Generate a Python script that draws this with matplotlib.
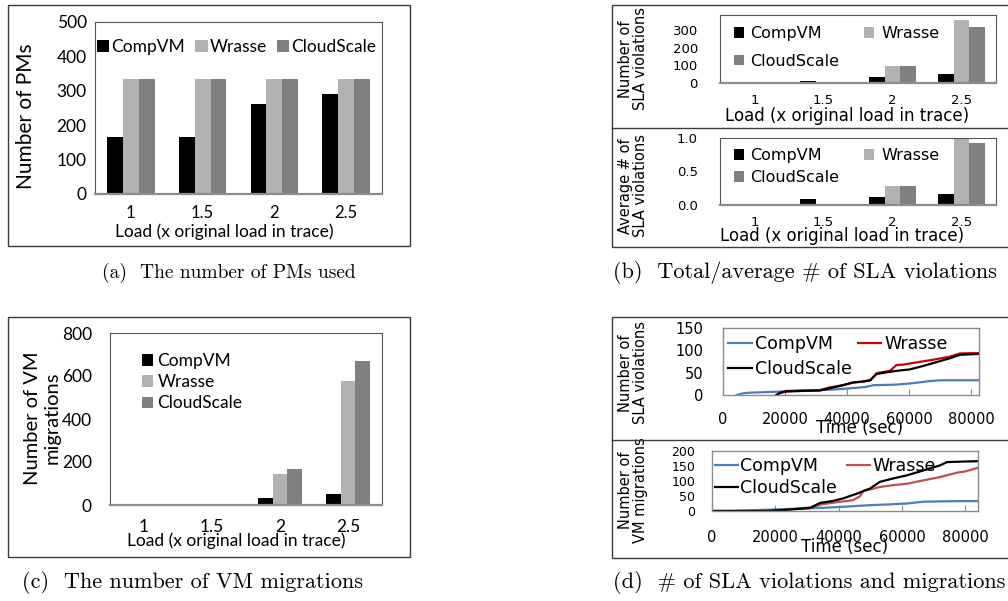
import matplotlib
matplotlib.use("Agg")
import matplotlib.pyplot as plt
from matplotlib.patches import Rectangle, Patch
from matplotlib.lines import Line2D
import numpy as np

W, H = 1008, 601
DPI = 100

# ---------------- data ----------------
loads = ["1", "1.5", "2", "2.5"]
series = ["CompVM", "Wrasse", "CloudScale"]
bar_colors = ["#000000", "#b2b2b2", "#808080"]

pms_compvm = [165, 165, 263, 290]
pms_wrasse = [333, 333, 333, 333]
pms_cloudscale = [333, 333, 333, 333]

sla_total_compvm = [0, 13, 34, 52]
sla_total_wrasse = [0, 0, 97, 356]
sla_total_cloudscale = [0, 0, 97, 315]

sla_avg_compvm = [0, 0.09, 0.12, 0.17]
sla_avg_wrasse = [0, 0, 0.28, 1.0]
sla_avg_cloudscale = [0, 0, 0.28, 0.92]

mig_compvm = [0, 0, 31, 50]
mig_wrasse = [0, 0, 143, 579]
mig_cloudscale = [0, 0, 166, 672]

# cumulative SLA violations over time
sla_t_compvm = [4400, 6000, 8000, 12000, 20000, 28000, 35000, 41000, 46000,
                48500, 55000, 59000, 63000, 66500, 70000, 76000, 82500]
sla_v_compvm = [0, 3, 5, 6, 8, 10, 12, 15, 18, 22, 23, 25, 28, 31, 33, 33, 33]
sla_t_wrasse = [17200, 18500, 20400, 25000, 31200, 34400, 38700, 41900, 45000,
                47500, 48400, 49500, 53800, 55900, 58000, 62400, 67800, 73100,
                76400, 82500]
sla_v_wrasse = [0, 5, 9, 10, 11, 17, 22, 28, 30, 33, 40, 49, 54, 67, 68, 73,
                79, 86, 93, 94]
sla_t_cloudscale = [17200, 18500, 20400, 25000, 31200, 34400, 38700, 41900,
                    45000, 47500, 48400, 49500, 53800, 57000, 60000, 64000,
                    68000, 73000, 76400, 82500]
sla_v_cloudscale = [0, 5, 8, 9, 10, 15, 22, 28, 30, 33, 40, 47, 52, 55, 57,
                    64, 72, 82, 90, 92]

# cumulative VM migrations over time
mig_t_compvm = [0, 8000, 14200, 22000, 30000, 36000, 41400, 46000, 51000,
                56000, 61600, 66700, 72000, 78000, 84000]
mig_v_compvm = [0, 1, 3, 6, 9, 11, 14, 17, 20, 22, 25, 31, 32, 33, 33]
mig_t_wrasse = [0, 17400, 24600, 31000, 35000, 40000, 44500, 46700, 47800,
                50000, 53000, 57000, 61600, 66700, 72000, 77400, 80000, 84000]
mig_v_wrasse = [0, 0, 5, 12, 23, 30, 36, 49, 67, 72, 80, 86, 91, 102, 113,
                128, 132, 144]
mig_t_cloudscale = [0, 17400, 24600, 31000, 34100, 38000, 41400, 45800, 49900,
                    53000, 57000, 61600, 66700, 72000, 74200, 80000, 84000]
mig_v_cloudscale = [0, 0, 5, 10, 27, 33, 42, 58, 75, 97, 108, 119, 135, 152,
                    163, 165, 166]

# ---------------- helpers ----------------
fig = plt.figure(figsize=(W / DPI, H / DPI), dpi=DPI)
fig.patch.set_facecolor("white")

FA = "Lato"         # text of panels (a) and (c)
FB = "DejaVu Sans"  # text of panels (b) and (d)
CAP = "cmr10"


def fx(x):
    return x / W


def fy(y):
    return 1 - y / H


def px_axes(x0, y0, x1, y1):
    return fig.add_axes([fx(x0), fy(y1), (x1 - x0) / W, (y1 - y0) / H])


def box(x0, y0, x1, y1):
    fig.add_artist(Rectangle((fx(x0), fy(y1)), (x1 - x0) / W, (y1 - y0) / H,
                             transform=fig.transFigure, fill=False,
                             lw=1.0, ec="#3a3a3a"))


def hline(x0, x1, y):
    fig.add_artist(Line2D([fx(x0), fx(x1)], [fy(y), fy(y)],
                          transform=fig.transFigure, lw=1.0, color="#3a3a3a"))


def style_bar_axes(ax, family, xsize, ysize, xpad, ypad):
    for s in ("top", "right", "left"):
        ax.spines[s].set_color("#555555")
        ax.spines[s].set_linewidth(0.8)
    ax.spines["bottom"].set_color("#8c8c8c")
    ax.spines["bottom"].set_linewidth(1.6)
    ax.tick_params(axis="x", length=0, pad=xpad, labelsize=xsize)
    ax.tick_params(axis="y", length=0, pad=ypad, labelsize=ysize)
    for lab in ax.get_xticklabels() + ax.get_yticklabels():
        lab.set_family(family)


def grouped_bars(ax, values, bar_w):
    x = np.arange(len(loads))
    for i, (vals, col, name) in enumerate(zip(values, bar_colors, series)):
        ax.bar(x + (i - 1) * bar_w, vals, width=bar_w, color=col,
               linewidth=0, label=name)
    ax.set_xlim(-0.5, len(loads) - 0.5)
    ax.set_xticks(x, loads)


def set_labels(ax, xlabel, xl_pos, ylabel, yl_pos, family, xsize, ysize,
               ylinespacing=1.0):
    ax.set_xlabel(xlabel, family=family, fontsize=xsize)
    ax.xaxis.set_label_coords(fx(xl_pos[0]), fy(xl_pos[1]),
                              transform=fig.transFigure)
    ax.xaxis.label.set_va("center")
    ax.set_ylabel(ylabel, family=family, fontsize=ysize,
                  linespacing=ylinespacing)
    ax.yaxis.set_label_coords(fx(yl_pos[0]), fy(yl_pos[1]),
                              transform=fig.transFigure)
    ax.yaxis.label.set_va("center")


def patch_handles():
    return [Patch(facecolor=c, edgecolor="none") for c in bar_colors]


# ---------------- (a) number of PMs ----------------
box(8, 5, 410, 246)
ax_a = px_axes(95, 22, 382, 194)
grouped_bars(ax_a, [pms_compvm, pms_wrasse, pms_cloudscale], 0.22)
ax_a.set_ylim(0, 500)
ax_a.set_yticks([0, 100, 200, 300, 400, 500])
style_bar_axes(ax_a, FA, 12, 12.5, 8, 6)
set_labels(ax_a, "Load (x original load in trace)", (224, 232),
           "Number of PMs", (26, 116), FA, 12.5, 15)
ax_a.legend(patch_handles(), series, loc="upper left",
            bbox_to_anchor=(fx(97), fy(39)),
            bbox_transform=fig.transFigure, ncol=3, frameon=False,
            borderpad=0, borderaxespad=0, handlelength=0.7,
            handleheight=0.7, handletextpad=0.12, columnspacing=0.6,
            prop={"family": FA, "size": 12.5})
fig.text(fx(229), fy(273), "(a)  The number of PMs used", family=CAP,
         fontsize=14, ha="center", va="center")

# ---------------- (c) number of VM migrations ----------------
box(8, 317, 410, 557)
ax_c = px_axes(110, 333, 382, 505)
grouped_bars(ax_c, [mig_compvm, mig_wrasse, mig_cloudscale], 0.22)
ax_c.set_ylim(0, 800)
ax_c.set_yticks([0, 200, 400, 600, 800])
style_bar_axes(ax_c, FA, 12.5, 12.5, 10, 13)
set_labels(ax_c, "Load (x original load in trace)", (236, 541),
           "Number of VM\nmigrations", (42, 418), FA, 12.5, 14.5, 1.2)
ax_c.legend(patch_handles(), series, loc="upper left",
            bbox_to_anchor=(fx(142), fy(353)), bbox_transform=fig.transFigure,
            ncol=1, frameon=False, borderpad=0, borderaxespad=0,
            handlelength=0.62, handleheight=0.62, handletextpad=0.28,
            labelspacing=0.3, prop={"family": FA, "size": 12.5})
fig.text(fx(193), fy(583), "(c)  The number of VM migrations", family=CAP,
         fontsize=16, ha="center", va="center")

# ---------------- (b) total / average SLA violations ----------------
box(612, 5, 1012, 247)
hline(612, 1012, 128)
legend_order = [0, 2, 1]  # two columns: CompVM / CloudScale, then Wrasse

ax_b1 = px_axes(720, 15, 996, 83)
grouped_bars(ax_b1, [sla_total_compvm, sla_total_wrasse,
                     sla_total_cloudscale], 0.23)
ax_b1.set_ylim(0, 385)
ax_b1.set_yticks([0, 100, 200, 300])
style_bar_axes(ax_b1, FB, 9.5, 9.5, 8, 16)
set_labels(ax_b1, "Load (x original load in trace)", (847, 116),
           "Number of\nSLA violations", (633, 59), FB, 12, 10.5, 1.0)
ax_b1.legend([patch_handles()[i] for i in legend_order],
             [series[i] for i in legend_order], loc="upper left",
             bbox_to_anchor=(fx(734), fy(26)), bbox_transform=fig.transFigure,
             ncol=2, frameon=False, borderpad=0, borderaxespad=0,
             handlelength=0.62, handleheight=0.62, handletextpad=0.42,
             labelspacing=0.8, columnspacing=1.55,
             prop={"family": FB, "size": 11.5})

ax_b2 = px_axes(720, 138, 996, 205)
grouped_bars(ax_b2, [sla_avg_compvm, sla_avg_wrasse, sla_avg_cloudscale],
             0.23)
ax_b2.set_ylim(0, 1.0)
ax_b2.set_yticks([0.0, 0.5, 1.0], ["0.0", "0.5", "1.0"])
style_bar_axes(ax_b2, FB, 9.5, 9.5, 8, 16)
set_labels(ax_b2, "Load (x original load in trace)", (842, 236),
           "Average # of\nSLA violations", (633, 186), FB, 12, 10.5, 1.0)
ax_b2.legend([patch_handles()[i] for i in legend_order],
             [series[i] for i in legend_order], loc="upper left",
             bbox_to_anchor=(fx(734), fy(148)), bbox_transform=fig.transFigure,
             ncol=2, frameon=False, borderpad=0, borderaxespad=0,
             handlelength=0.62, handleheight=0.62, handletextpad=0.42,
             labelspacing=0.45, columnspacing=1.55,
             prop={"family": FB, "size": 11.5})
fig.text(fx(805), fy(272), "(b)  Total/average # of SLA violations",
         family=CAP, fontsize=16, ha="center", va="center")

# ---------------- (d) SLA violations and migrations over time ----------------
box(612, 317, 1012, 558)
hline(612, 1012, 440)

line_cols_top = {"CompVM": "#4a7ebb", "Wrasse": "#d00000",
                 "CloudScale": "#000000"}
line_cols_bot = {"CompVM": "#4a7ebb", "Wrasse": "#c0504d",
                 "CloudScale": "#000000"}
line_order = ["CompVM", "CloudScale", "Wrasse"]


def style_line_axes(ax, xsize, ysize, xpad, ypad):
    for s in ax.spines.values():
        s.set_color("#8c8c8c")
        s.set_linewidth(1.0)
    ax.tick_params(axis="x", direction="in", length=4, color="#8c8c8c",
                   pad=xpad, labelsize=xsize)
    ax.tick_params(axis="y", length=0, pad=ypad, labelsize=ysize)
    for lab in ax.get_xticklabels() + ax.get_yticklabels():
        lab.set_family(FB)


ax_d1 = px_axes(723, 328, 979, 395)
ax_d1.plot(sla_t_compvm, sla_v_compvm, color=line_cols_top["CompVM"], lw=1.6)
ax_d1.plot(sla_t_wrasse, sla_v_wrasse, color=line_cols_top["Wrasse"], lw=1.6)
ax_d1.plot(sla_t_cloudscale, sla_v_cloudscale,
           color=line_cols_top["CloudScale"], lw=1.6)
ax_d1.set_xlim(0, 82500)
ax_d1.set_ylim(0, 150)
ax_d1.set_xticks([0, 20000, 40000, 60000, 80000])
ax_d1.set_yticks([0, 50, 100, 150])
style_line_axes(ax_d1, 10.5, 10.5, 12, 14)
set_labels(ax_d1, "Time (sec)", (860, 428), "Number of\nSLA violations",
           (633, 373), FB, 12, 10.5, 1.0)
ax_d1.legend([Line2D([], [], color=line_cols_top[k], lw=1.6)
              for k in line_order],
             line_order, loc="upper left",
             bbox_to_anchor=(fx(728), fy(335)), bbox_transform=fig.transFigure,
             ncol=2, frameon=False, borderpad=0, borderaxespad=0,
             handlelength=1.38, handletextpad=0.15, labelspacing=0.42,
             columnspacing=0.35, prop={"family": FB, "size": 12.5})

ax_d2 = px_axes(712, 451, 978, 511)
ax_d2.plot(mig_t_compvm, mig_v_compvm, color=line_cols_bot["CompVM"], lw=1.6)
ax_d2.plot(mig_t_wrasse, mig_v_wrasse, color=line_cols_bot["Wrasse"], lw=1.6)
ax_d2.plot(mig_t_cloudscale, mig_v_cloudscale,
           color=line_cols_bot["CloudScale"], lw=1.6)
ax_d2.set_xlim(0, 84000)
ax_d2.set_ylim(0, 200)
ax_d2.set_xticks([0, 20000, 40000, 60000, 80000])
ax_d2.set_yticks([0, 50, 100, 150, 200])
style_line_axes(ax_d2, 10.5, 9, 14, 12)
set_labels(ax_d2, "Time (sec)", (845, 547), "Number of\nVM migrations",
           (633, 490), FB, 12, 10.5, 1.0)
ax_d2.legend([Line2D([], [], color=line_cols_bot[k], lw=1.6)
              for k in line_order],
             line_order, loc="upper left",
             bbox_to_anchor=(fx(715), fy(457)), bbox_transform=fig.transFigure,
             ncol=2, frameon=False, borderpad=0, borderaxespad=0,
             handlelength=1.3, handletextpad=0.15, labelspacing=0.25,
             columnspacing=0.6, prop={"family": FB, "size": 12.5})
fig.text(fx(809), fy(583), "(d)  # of SLA violations and migrations",
         family=CAP, fontsize=16, ha="center", va="center")

fig.savefig("out.png", dpi=DPI, facecolor="white")
